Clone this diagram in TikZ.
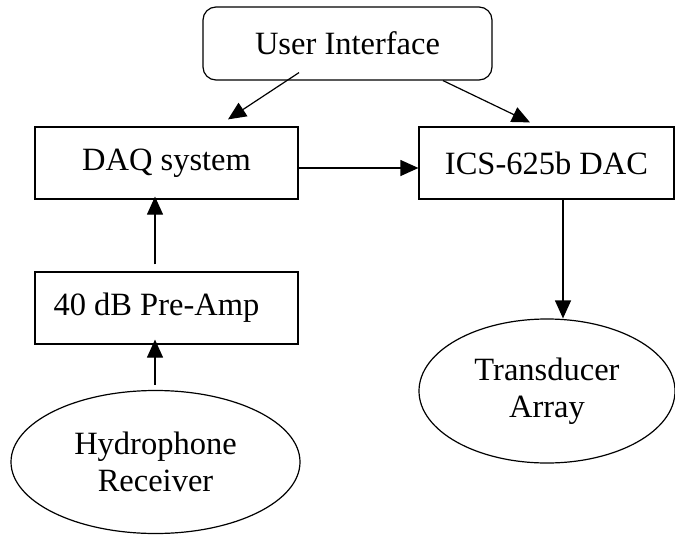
\documentclass[tikz,border=0pt]{standalone}
\usepackage{fontspec}
\setmainfont{Liberation Serif}
\usepackage{tikz}
\usetikzlibrary{positioning, arrows.meta, calc, shapes.geometric}

\tikzset{
    block/.style={draw, line width=1.2pt, minimum width=263pt, minimum height=72pt, inner sep=0pt},
    oval/.style={draw, ellipse, line width=1.2pt, inner sep=0pt, align=center},
    flow/.style={-{Triangle[length=18pt, width=16pt]}, line width=1.2pt},
}

\begin{document}
\begin{tikzpicture}[x=1pt, y=-1pt, font=\fontsize{32.5}{37}\selectfont]
    \useasboundingbox (0,0) rectangle (675,536);

    % top and middle row
    \node[block, rounded corners=13pt, minimum width=289pt, minimum height=73pt] (ui) at (347.5,43.5) {User Interface};
    \node[block] (daq) at (166.5,163) {DAQ system};
    \node[block, minimum width=255pt] (dac) at (546.5,163) {ICS-625b DAC};

    % receiving chain
    \node[block] (amp) at (166.5,308) {\hspace*{-20pt}40 dB Pre-Amp};
    \node[oval, minimum width=289pt, minimum height=143pt] (hyd) at (155.5,462) {Hydrophone\\Receiver};

    % transmitting side
    \node[oval, minimum width=256pt, minimum height=144pt] (xdcr) at (547,391) {Transducer\\Array};

    \draw[flow] ([xshift=-48.5pt, yshift=8pt]ui.south) -- ([xshift=61.5pt, yshift=7pt]daq.north);
    \draw[flow] ([xshift=95.5pt]ui.south) -- ([xshift=-16.5pt, yshift=4pt]dac.north);
    \draw[flow] ([yshift=-5pt]daq.east) -- ([yshift=-5pt]dac.west);
    \draw[flow] ([xshift=-11.5pt, yshift=7pt]amp.north) -- ([xshift=-11.5pt, yshift=3pt]daq.south);
    \draw[flow] ([xshift=-0.5pt, yshift=5pt]hyd.north) -- ([xshift=-11.5pt, yshift=5pt]amp.south);
    \draw[flow] ([xshift=16.5pt]dac.south) -- ([xshift=16pt]xdcr.north);
\end{tikzpicture}
\end{document}
